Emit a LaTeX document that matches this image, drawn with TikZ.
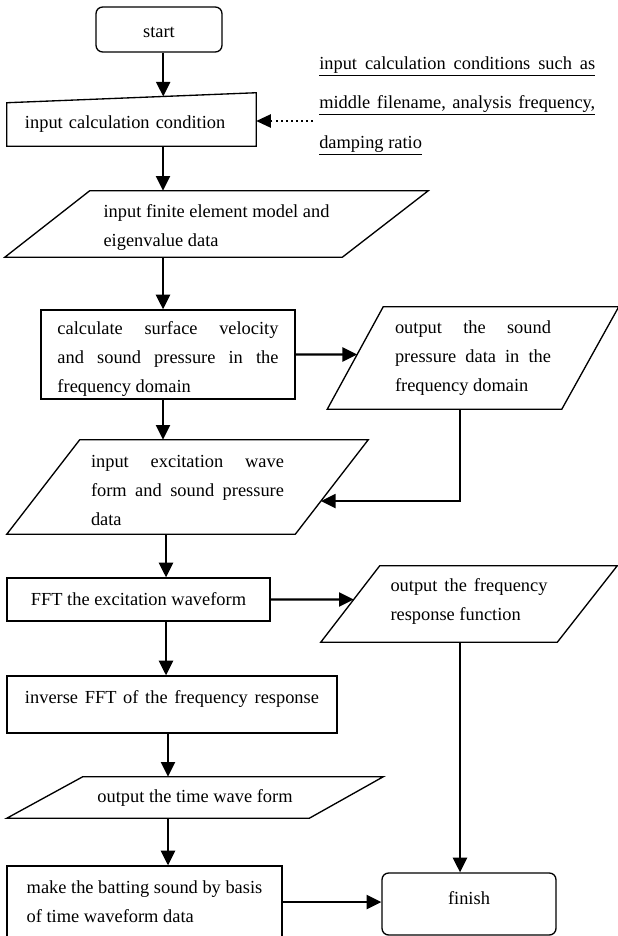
\documentclass[tikz,border=0pt]{standalone}
\usepackage{fontspec}
\setmainfont{Liberation Serif}
\usetikzlibrary{arrows.meta,calc}
\newdimen\px \px=0.75pt
\begin{document}
\begin{tikzpicture}[x=0.75pt,y=-0.75pt,
  font=\fontsize{13.8}{21.75}\selectfont,
  box/.style={draw,line width=1pt,inner sep=0pt},
  ghost/.style={inner sep=0pt},
  shp/.style={line width=1pt,line join=miter},
  arr/.style={line width=1.6pt,-{Triangle[length=11pt,width=10.5pt]}},
  dotarr/.style={line width=1.2pt,dash pattern=on 1.2pt off 2.6pt,-{Triangle[length=11pt,width=10pt]}}]
\useasboundingbox (0,0) rectangle (618,936);
\clip (0,0) rectangle (618,936);
\fill[white] (0,0) rectangle (618,936);

% start
\node[box,rounded corners=5pt,minimum width=94.5pt,minimum height=33.75pt] (start) at (159,29.5) {\rule{0pt}{12.5pt}start};

% input calculation condition (manual input)
\node[ghost,minimum width=186.75pt,minimum height=32.25pt,text width=159.75pt,inner xsep=13.5pt,align=left] (ic) at (131.5,124.5) {input calculation condition};
\draw[shp] (ic.north west) -- ($(ic.north east)+(0,-10)$) -- (ic.south east) -- (ic.south west) -- cycle;

% annotation
\node[ghost,anchor=west,align=left,font=\fontsize{13.8}{29.6}\selectfont] (note) at (319,105.5)
  {\underline{\makebox[276\px]{input\hfill calculation\hfill conditions\hfill such\hfill as}}\\
   \underline{\makebox[276\px]{middle\hfill filename,\hfill analysis\hfill frequency,}}\\
   \underline{damping ratio}};
\coordinate (dotS) at (313,121);
\draw[dotarr] (dotS) -- (dotS -| ic.east);

% input finite element model
\node[ghost,minimum width=317.25pt,minimum height=49.5pt,align=left] (p1) at (216.5,224)
  {\rule{0pt}{15pt}input finite element model and\\eigenvalue data};
\draw[shp] ($(p1.north west)+(85,0)$) -- (p1.north east) -- ($(p1.south east)+(-86,0)$) -- (p1.south west) -- cycle;

% calculate
\node[box,minimum width=190.5pt,minimum height=66.75pt,align=left] (calc) at (168,354.5)
  {\rule{0pt}{16pt}\makebox[165.75pt]{calculate\hfill surface\hfill velocity}\\
   \makebox[165.75pt]{and\hfill sound\hfill pressure\hfill in\hfill the}\\
   frequency domain};

% output sound pressure
\node[ghost,minimum width=218.25pt,minimum height=76.5pt,align=left] (os) at (473,358)
  {\makebox[117pt]{output\hfill the\hfill sound}\\
   \makebox[117pt]{pressure\hfill data\hfill in\hfill the}\\
   frequency domain};
\draw[shp] ($(os.north west)+(56,0)$) -- (os.north east) -- ($(os.south east)+(-57,0)$) -- (os.south west) -- cycle;

% input excitation
\node[ghost,minimum width=270.75pt,minimum height=70.5pt,align=left] (p2) at (187.5,487)
  {\rule{0pt}{14.7pt}\makebox[144.75pt]{input\hfill excitation\hfill wave}\\
   \makebox[144.75pt]{form\hfill and\hfill sound\hfill pressure}\\
   data};
\draw[shp] ($(p2.north west)+(73,0)$) -- (p2.north east) -- ($(p2.south east)+(-73,0)$) -- (p2.south west) -- cycle;

% FFT
\node[box,minimum width=197.25pt,minimum height=32.25pt] (fft) at (138.5,599.5) {FFT the excitation waveform};

% output frequency response
\node[ghost,minimum width=222pt,minimum height=57pt,align=left] (of) at (469,604)
  {\makebox[117.75pt]{output\hfill the\hfill frequency}\\
   response function\rule[-7pt]{0pt}{0pt}};
\draw[shp] ($(of.north west)+(59,0)$) -- (of.north east) -- ($(of.south east)+(-60,0)$) -- (of.south west) -- cycle;

% inverse FFT
\node[box,minimum width=247.5pt,minimum height=42.75pt] (inv) at (172,704.5)
  {\makebox[220.5pt]{inverse\hfill FFT\hfill of\hfill the\hfill frequency\hfill response}\rule[-10.5pt]{0pt}{0pt}};

% output time wave form
\node[ghost,minimum width=282pt,minimum height=30.75pt] (p3) at (195,797.5) {output the time wave form};
\draw[shp] ($(p3.north west)+(76,0)$) -- (p3.north east) -- ($(p3.south east)+(-74,0)$) -- (p3.south west) -- cycle;

% make
\node[box,minimum width=206.25pt,minimum height=54pt,align=left] (make) at (144.5,902)
  {make the batting sound by basis\\of time waveform data};

% finish
\node[box,rounded corners=5pt,minimum width=130.5pt,minimum height=46.5pt] (finish) at (469,904) {finish\rule[-9pt]{0pt}{0pt}};

% helper coordinates
\coordinate (icT) at ($(ic.north west)!0.627!($(ic.north east)+(0,-10)$)$);
\coordinate (ax1) at (163,0);
\coordinate (ax2) at (166,0);
\coordinate (ax3) at (168,0);
\coordinate (ax4) at (460,0);
\coordinate (osL) at ($(os.south west)!0.534!($(os.north west)+(56,0)$)$);
\coordinate (p2R) at ($($(p2.south east)+(-73,0)$)!0.351!(p2.north east)$);
\coordinate (ofL) at ($(of.south west)!0.559!($(of.north west)+(59,0)$)$);

% connectors
\draw[arr] (start.south -| icT) -- (icT);
\draw[arr] (ic.south -| ax1) -- (p1.north -| ax1);
\draw[arr] (p1.south -| ax1) -- (calc.north -| ax1);
\draw[arr] (calc.east) -- (osL);
\draw[arr] (calc.south -| ax1) -- (p2.north -| ax1);
\draw[arr] (os.south -| ax4) |- (p2R);
\draw[arr] (p2.south -| ax2) -- (fft.north -| ax2);
\draw[arr] (fft.east) -- (ofL);
\draw[arr] (fft.south -| ax2) -- (inv.north -| ax2);
\draw[arr] (inv.south -| ax3) -- (p3.north -| ax3);
\draw[arr] (p3.south -| ax3) -- (make.north -| ax3);
\draw[arr] (of.south -| ax4) -- (finish.north -| ax4);
\draw[arr] (make.east) -- (make.east -| finish.west);
\end{tikzpicture}
\end{document}
